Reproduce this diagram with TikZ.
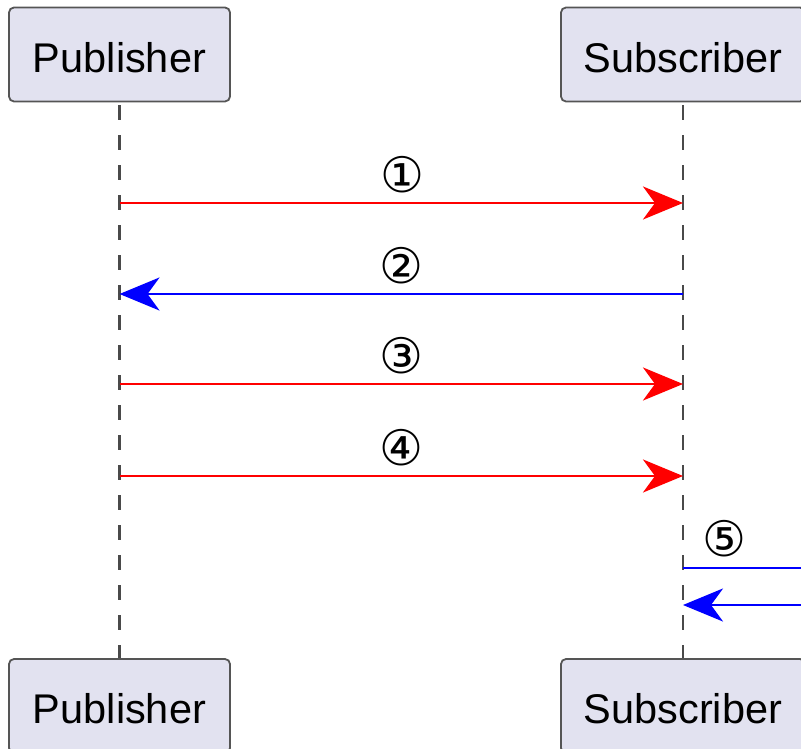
\documentclass[tikz,border=0pt]{standalone}
\usepackage{fontspec}
\setmainfont{Liberation Sans}
\newfontfamily\circfont{DejaVu Sans}
\usetikzlibrary{arrows.meta}

\definecolor{boxfill}{HTML}{E2E2F0}
\definecolor{boxline}{HTML}{555555}
\definecolor{lifegray}{HTML}{4A4A4A}
\definecolor{msgred}{HTML}{FF0000}
\definecolor{msgblue}{HTML}{0000FF}

\tikzset{
  actor/.style={draw=boxline, line width=1.8pt, fill=boxfill, rounded corners=5pt,
    minimum height=94pt, inner sep=0pt, font=\fontsize{41.5}{41.5}\selectfont,
    text height=35.5pt, text depth=0pt},
  pubbox/.style={actor, minimum width=221pt},
  subbox/.style={actor, minimum width=244pt},
  lifeline/.style={draw=lifegray, line width=2.1pt, dash pattern=on 15pt off 15pt},
  msg/.style={line width=2.8pt, -{Stealth[length=40pt, width=33pt, inset=12pt]}},
  plain/.style={line width=2.8pt},
  num/.style={font=\circfont\fontsize{49}{49}\selectfont, inner sep=0pt}
}

\begin{document}
\begin{tikzpicture}[x=1pt, y=-1pt]
  \clip (0,0) rectangle (801,749);
  \fill[white] (0,0) rectangle (801,749);

  % participants, top and bottom
  \node[pubbox] (pubT) at (119.5,54.5) {Publisher};
  \node[subbox] (subT) at (683,54.5) {Subscriber};
  \node[pubbox] (pubB) at (119.5,706) {Publisher};
  \node[subbox] (subB) at (683,706) {Subscriber};

  % lifelines
  \draw[lifeline] ([yshift=-3pt]pubT.south) -- (pubB.north);
  \draw[lifeline] ([yshift=-3pt]subT.south) -- (subB.north);

  % message end points on the lifelines
  \coordinate (p1) at (pubT.south |- 0,203);
  \coordinate (s1) at (subT.south |- 0,203);
  \coordinate (p2) at (pubT.south |- 0,294);
  \coordinate (s2) at (subT.south |- 0,294);
  \coordinate (p3) at (pubT.south |- 0,384);
  \coordinate (s3) at (subT.south |- 0,384);
  \coordinate (p4) at (pubT.south |- 0,476);
  \coordinate (s4) at (subT.south |- 0,476);
  \coordinate (s5) at (subT.south |- 0,568);
  \coordinate (r5) at (840,568);
  \coordinate (s6) at (subT.south |- 0,605);
  \coordinate (r6) at (840,605);

  % messages
  \draw[msg, msgred] (p1) -- (s1);
  \draw[msg, msgblue] (s2) -- (p2);
  \draw[msg, msgred] (p3) -- (s3);
  \draw[msg, msgred] (p4) -- (s4);
  \draw[plain, msgblue] (s5) -- (r5);
  \draw[msg, msgblue] (r6) -- (s6);

  % message labels
  \node[num] (n1) at (402,175) {①};
  \node[num] (n2) at (401,266) {②};
  \node[num] (n3) at (401,356) {③};
  \node[num] (n4) at (401,448) {④};
  \node[num] (n5) at (724,539) {⑤};
\end{tikzpicture}
\end{document}
